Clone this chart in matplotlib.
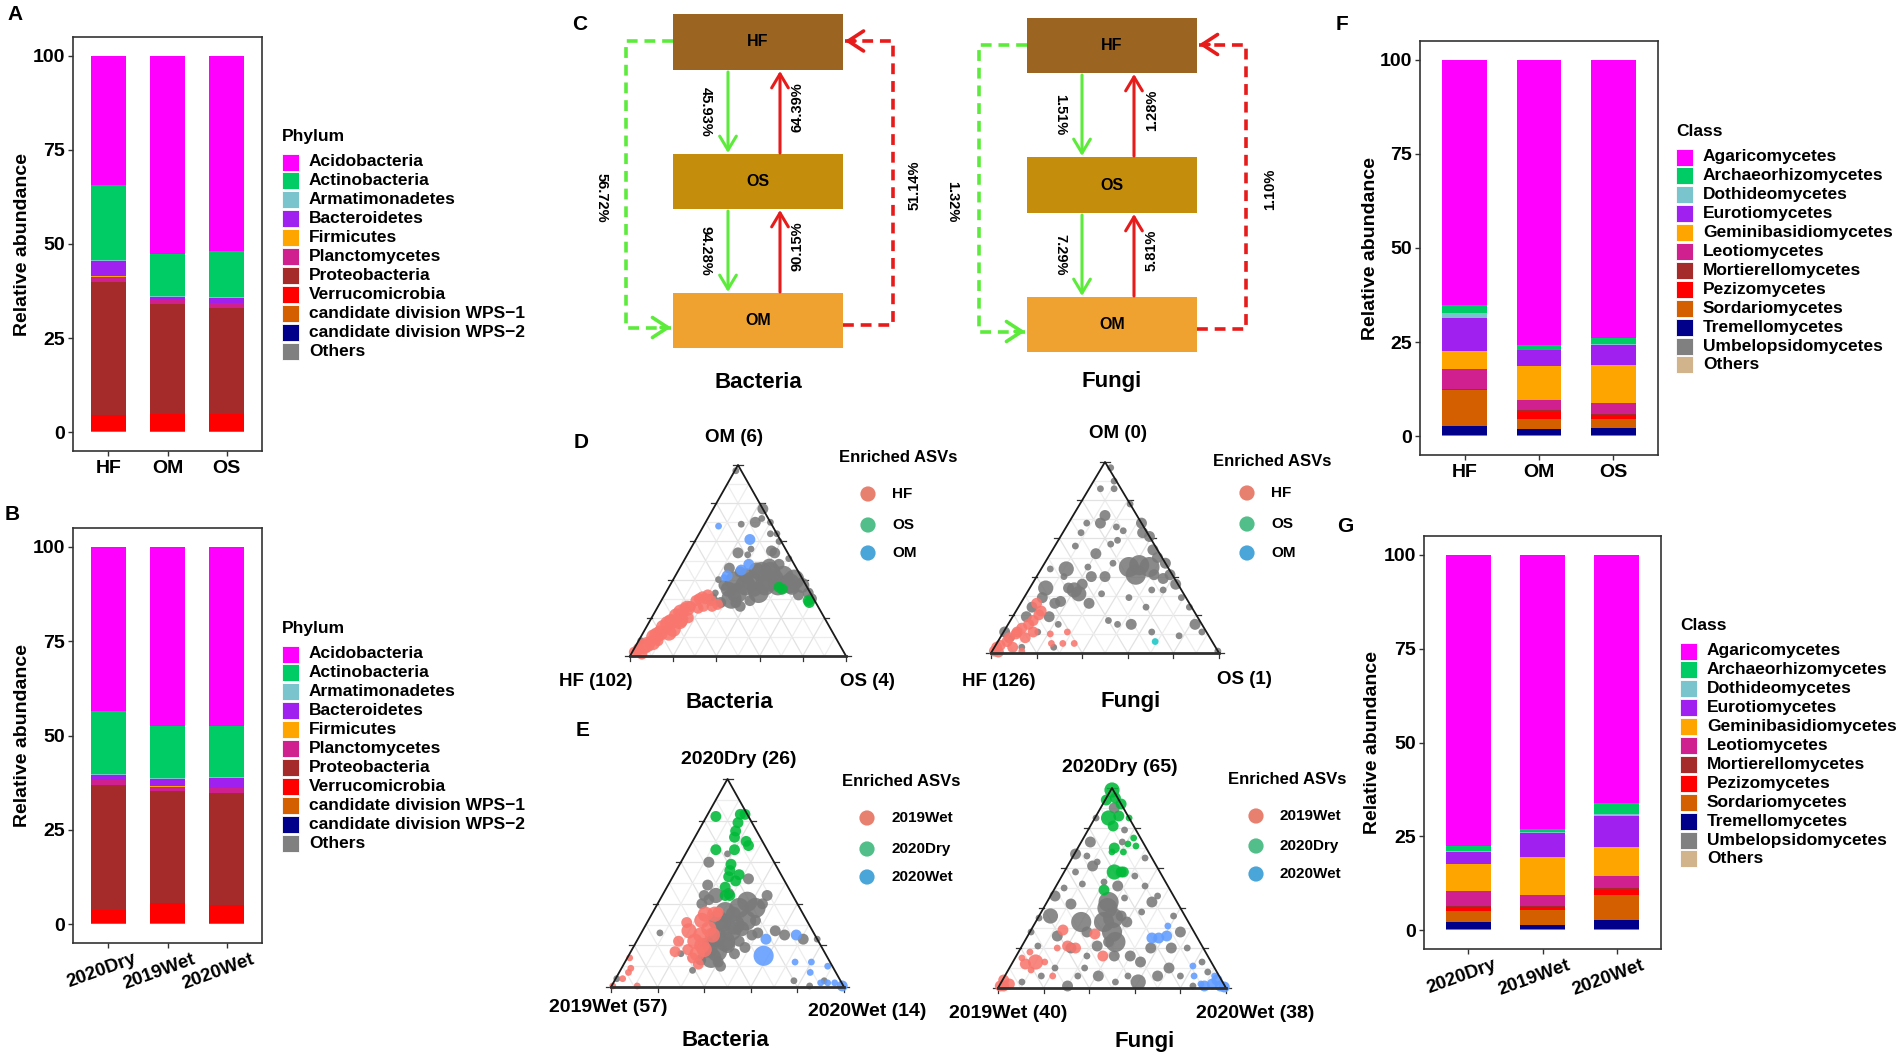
import numpy as np
import matplotlib
matplotlib.use('Agg')
import matplotlib.pyplot as plt
from matplotlib.patches import Rectangle, FancyArrowPatch
from matplotlib.transforms import ScaledTranslation

plt.rcParams['font.family'] = ['Liberation Sans', 'DejaVu Sans']
plt.rcParams['font.weight'] = 'bold'
plt.rcParams['axes.labelweight'] = 'bold'

W, H, DPI = 1902, 1058, 100

# ------------------------------------------------------------------ data
phyla = ['Acidobacteria', 'Actinobacteria', 'Armatimonadetes', 'Bacteroidetes',
         'Firmicutes', 'Planctomycetes', 'Proteobacteria', 'Verrucomicrobia',
         'candidate division WPS\u22121', 'candidate division WPS\u22122', 'Others']
phylum_colors = ['#FF00FF', '#00CC66', '#7AC5CD', '#A020F0', '#FFA500', '#D02090',
                 '#A52A2A', '#FF0000', '#D35F00', '#00008B', '#808080']
site_cats = ['HF', 'OM', 'OS']
season_cats = ['2020Dry', '2019Wet', '2020Wet']

A_HF = [34.4, 19.9, 0.3, 3.9, 0.2, 1.4, 35.3, 4.2, 0.1, 0.1, 0.2]
A_OM = [52.7, 11.0, 0.3, 0.8, 0.1, 1.1, 29.1, 4.7, 0.05, 0.05, 0.1]
A_OS = [51.9, 12.3, 0.2, 1.3, 0.1, 1.3, 28.0, 4.7, 0.05, 0.05, 0.1]
B_2020Dry = [43.4, 16.7, 0.4, 1.2, 0.1, 1.2, 33.2, 3.6, 0.05, 0.05, 0.1]
B_2019Wet = [47.4, 13.8, 0.3, 2.0, 0.1, 1.1, 29.6, 5.4, 0.05, 0.05, 0.2]
B_2020Wet = [47.4, 13.5, 0.3, 2.6, 0.1, 1.3, 29.6, 5.0, 0.05, 0.05, 0.1]

classes = ['Agaricomycetes', 'Archaeorhizomycetes', 'Dothideomycetes', 'Eurotiomycetes',
           'Geminibasidiomycetes', 'Leotiomycetes', 'Mortierellomycetes', 'Pezizomycetes',
           'Sordariomycetes', 'Tremellomycetes', 'Umbelopsidomycetes', 'Others']
class_colors = ['#FF00FF', '#00CC66', '#7AC5CD', '#A020F0', '#FFA500', '#D02090',
                '#A52A2A', '#FF0000', '#D35F00', '#00008B', '#808080', '#D2B48C']
F_HF = [65.2, 2.0, 1.3, 8.8, 4.8, 5.3, 0.3, 0.1, 9.4, 2.6, 0.1, 0.1]
F_OM = [75.7, 1.3, 0.2, 4.1, 9.2, 2.6, 0.5, 1.8, 2.8, 1.4, 0.3, 0.1]
F_OS = [73.8, 1.7, 0.2, 5.4, 10.2, 2.7, 0.3, 1.1, 2.4, 1.9, 0.2, 0.1]
G_2020Dry = [77.5, 1.5, 0.2, 3.1, 7.3, 4.0, 0.3, 0.9, 3.0, 2.0, 0.1, 0.1]
G_2019Wet = [73.1, 0.7, 0.4, 6.2, 10.1, 3.1, 0.3, 0.7, 4.1, 1.1, 0.1, 0.1]
G_2020Wet = [66.2, 2.8, 0.5, 8.3, 7.8, 3.2, 0.6, 1.3, 6.7, 2.3, 0.2, 0.1]

# flow percentages: HF->OS, OS->HF, OS->OM, OM->OS, HF->OM, OM->HF
flow_bacteria = [45.93, 64.39, 94.28, 90.15, 56.72, 51.14]
flow_fungi = [1.51, 1.28, 7.29, 5.81, 1.32, 1.10]

# ternary points: (top share %, right share %, size class)
# D bacteria (top = OM, left = HF, right = OS)
dbac_gray = [(97, 0.5, 1), (77, 23, 2), (70, 23, 2), (72, 25, 1), (70, 30, 1), (64, 33, 1), (64, 36, 1),
             (60, 39, 1), (69, 17, 1), (54, 23, 2), (56, 28, 1), (53, 28, 1), (55, 38, 2), (54, 40, 2),
             (51, 48, 1), (46, 23, 2), (39, 29, 4), (33, 33, 4), (39, 37, 4), (44, 39, 4), (44, 43, 4),
             (42, 50, 4), (40, 56, 4), (37, 61, 3), (33, 66, 2), (30, 69, 2), (37, 44, 4), (37, 50, 4),
             (33, 43, 4), (30, 32, 4), (37, 25, 2), (40, 21, 1), (33, 23, 1), (28, 28, 2), (30, 23, 2),
             (8, 1, 1), (37, 35, 4), (39, 45, 4), (38, 55, 4), (44, 29, 2), (42, 33, 3), (35, 40, 3),
             (41, 47, 3), (36, 57, 3), (32, 62, 2), (45, 36, 3), (47, 41, 3), (28, 35, 2), (26, 38, 2),
             (48, 45, 2), (35, 28, 3), (29, 41, 2)]
dbac_hf = [(2, 1, 2), (3, 2, 2), (1, 5, 2), (6, 5, 3), (10, 6, 3), (11, 7, 3), (15, 8, 3), (17, 9, 3),
           (18, 10, 3), (21, 11, 3), (23, 12, 3), (25, 13, 2), (25, 14, 3), (26, 15, 2), (29, 16, 2),
           (30, 17, 2), (31, 18, 2), (30, 20, 2), (32, 20, 2), (29, 23, 2), (26, 25, 2), (27, 27, 2),
           (20, 17, 2), (18, 14, 3), (12, 12, 3), (12, 8, 3), (7, 7, 3), (5, 4, 3), (4, 2, 2),
           (19, 14, 3), (25, 19, 2), (26, 21, 2), (8, 9, 2), (14, 13, 3)]
dbac_os = [(36, 51, 2), (35, 53, 2), (29, 68, 2), (28, 69, 2)]
dbac_om = [(68, 7, 1), (61, 25, 2), (48, 31, 2), (45, 29, 2), (42, 24, 2), (41, 23, 1)]

# D fungi
dfun_gray = [(97, 4, 1), (90, 9, 1), (86, 5, 1), (86, 11, 1), (78, 22, 1), (72, 14, 2), (68, 14, 2),
             (68, 8, 1), (66, 22, 1), (64, 26, 1), (68, 32, 2), (63, 35, 2), (61, 39, 2), (63, 8, 1),
             (56, 9, 1), (57, 24, 1), (59, 26, 1), (52, 20, 2), (44, 11, 3), (44, 4, 1), (45, 20, 1),
             (40, 30, 2), (47, 30, 1), (45, 38, 4), (46, 42, 4), (45, 47, 4), (41, 43, 4), (41, 51, 2),
             (54, 44, 2), (50, 48, 2), (47, 53, 2), (41, 58, 2), (36, 63, 2), (29, 69, 1), (24, 75, 1),
             (15, 82, 2), (11, 87, 1), (1, 99, 1), (33, 59, 1), (39, 56, 2), (33, 20, 3), (34, 17, 2),
             (36, 22, 2), (27, 17, 2), (26, 15, 2), (34, 7, 3), (29, 8, 2), (24, 6, 2), (19, 6, 2),
             (26, 30, 2), (31, 33, 1), (17, 43, 1), (15, 48, 1), (29, 46, 1), (15, 54, 2), (11, 65, 1),
             (9, 78, 1), (24, 56, 1), (33, 54, 1), (15, 22, 1), (19, 16, 2), (11, 15, 1), (8, 5, 1),
             (11, 0.5, 2), (3, 26, 1), (3, 12, 1), (40, 24, 2), (40, 12, 1), (31, 23, 3)]
dfun_hf = [(1, 1, 2), (3, 1, 2), (4, 2, 2), (6, 4, 2), (8, 4, 2), (10, 6, 2), (11, 6, 2), (13, 7, 2),
           (15, 9, 2), (17, 10, 2), (20, 11, 2), (22, 11, 2), (26, 7, 2), (0.5, 3, 2), (3, 8, 2),
           (8, 11, 2), (11, 13, 2), (10, 21, 1), (5, 24, 1), (5, 29, 1), (5, 34, 1), (11, 28, 1),
           (1, 13, 1)]
dfun_os = [(6, 69, 1)]

# E bacteria (top = 2020Dry, left = 2019Wet, right = 2020Wet)
ebac_gray = [(64, 18, 1), (60, 12, 2), (49, 17, 2), (44, 18, 2), (44, 23, 3), (52, 33, 2), (44, 45, 2),
             (40, 45, 2), (41, 38, 4), (38, 36, 4), (36, 31, 4), (32, 30, 4), (30, 38, 4), (32, 42, 4),
             (32, 46, 2), (24, 33, 4), (17, 37, 4), (14, 36, 4), (22, 38, 4), (22, 44, 2), (19, 48, 2),
             (16, 45, 2), (27, 38, 4), (25, 48, 2), (27, 57, 2), (25, 62, 2), (23, 71, 2), (23, 77, 1),
             (26, 8, 1), (16, 22, 1), (8, 31, 1), (13, 32, 2), (42, 21, 2), (40, 19, 2), (3, 77, 1),
             (0.5, 85, 1), (3, 90, 1), (4, 0.5, 1), (38, 43, 4), (19, 32, 4), (35, 35, 3), (28, 42, 3),
             (20, 40, 3), (30, 33, 3), (45, 28, 2), (12, 40, 2), (10, 42, 2), (26, 50, 2)]
ebac_2019wet = [(14, 1, 1), (9, 4, 1), (7, 4, 1), (4, 3, 1), (0.5, 0.5, 1), (0.5, 11, 1), (22, 18, 2),
                (17, 19, 2), (31, 17, 2), (27, 20, 3), (22, 25, 3), (18, 24, 2), (16, 29, 3), (14, 28, 2),
                (32, 23, 3), (35, 23, 3), (35, 27, 3), (28, 28, 3), (25, 31, 3), (25, 26, 3), (20, 29, 3),
                (18, 31, 3), (11, 32, 2), (36, 28, 2)]
ebac_2020dry = [(82, 4, 2), (83, 14, 2), (83, 16, 2), (79, 15, 2), (75, 16, 2), (72, 17, 2), (70, 23, 2),
                (68, 25, 2), (66, 12, 2), (66, 20, 2), (59, 22, 2), (56, 23, 2), (54, 28, 2), (53, 24, 2),
                (51, 28, 2), (48, 25, 2), (44, 29, 2), (44, 27, 2)]
ebac_2020wet = [(23, 55, 2), (25, 67, 2), (15, 58, 4), (12, 73, 1), (12, 80, 1), (10, 88, 1), (7, 82, 1),
                (2, 89, 1), (2, 92, 1), (2, 95, 1), (0.5, 99, 2)]

# E fungi
efun_gray = [(90, 6, 2), (85, 0.5, 1), (79, 16, 1), (73, 18, 1), (73, 4, 2), (67, 0.5, 2), (66, 6, 1),
             (63, 12, 1), (61, 11, 2), (58, 5, 1), (52, 11, 1), (50, 4, 1), (46, 2, 2), (42, 11, 2),
             (36, 5, 3), (35, 0.5, 1), (33, 20, 4), (28, 25, 2), (40, 28, 4), (33, 30, 4), (28, 36, 4),
             (23, 37, 2), (16, 43, 2), (36, 36, 2), (33, 40, 2), (45, 33, 1), (56, 32, 1), (51, 39, 1),
             (43, 46, 2), (38, 44, 1), (65, 32, 1), (46, 47, 1), (36, 59, 1), (28, 66, 2), (20, 66, 2),
             (20, 73, 1), (20, 57, 2), (13, 56, 2), (16, 50, 2), (6, 54, 1), (3, 60, 3), (6, 67, 2),
             (10, 70, 2), (6, 77, 1), (1, 85, 1), (3, 50, 1), (6, 41, 2), (10, 33, 1), (1, 30, 2),
             (10, 20, 1), (6, 16, 1), (21, 7, 1), (28, 0.5, 1), (26, 13, 2), (20, 22, 2), (16, 31, 1),
             (21, 33, 2), (6, 32, 1), (3, 9, 1), (13, 83, 1), (8, 88, 1), (53, 20, 1), (51, 27, 2),
             (43, 27, 4), (35, 33, 4), (23, 40, 4)]
efun_2019wet = [(1, 0.5, 2), (1, 2, 2), (2, 4, 2), (4, 0.5, 2), (15, 3, 1), (12, 6, 2), (13, 10, 3),
                (13, 14, 1), (18, 5, 1), (29, 14, 2), (20, 16, 1), (21, 20, 2), (20, 24, 2), (27, 29, 2),
                (16, 38, 2), (6, 21, 1), (9, 10, 1)]
efun_2020dry = [(99, 0.5, 3), (94, 0.5, 2), (95, 4, 2), (92, 8, 2), (85, 6, 3), (81, 10, 2), (86, 10, 2),
                (85, 15, 1), (75, 22, 1), (72, 21, 1), (71, 25, 1), (70, 16, 2), (68, 21, 1), (68, 16, 1),
                (58, 22, 3), (58, 25, 2), (58, 26, 2), (49, 22, 2)]
efun_2020wet = [(25, 55, 2), (25, 58, 2), (26, 61, 2), (31, 59, 1), (11, 80, 1), (6, 83, 1), (1, 90, 2),
                (2, 93, 2), (4, 94, 2), (1, 97, 2), (0.5, 99, 2), (6, 92, 1), (2, 88, 1)]

# ------------------------------------------------------------------ figure
fig = plt.figure(figsize=(W / DPI, H / DPI), dpi=DPI)
fig.patch.set_facecolor('white')


def rect(x0, y0, x1, y1):
    return [x0 / W, 1 - y1 / H, (x1 - x0) / W, (y1 - y0) / H]


def bar_panel(box, cats, series, colors, rotated, ylab_x):
    ax = fig.add_axes(rect(*box))
    x = np.arange(1, len(cats) + 1)
    data = np.array(series, dtype=float)
    bottom = np.zeros(len(cats))
    for j in range(data.shape[1] - 1, -1, -1):
        ax.bar(x, data[:, j], bottom=bottom, width=0.6, color=colors[j], linewidth=0)
        bottom += data[:, j]
    ax.set_xlim(0.4, len(cats) + 0.6)
    ax.set_ylim(-5, 105)
    ax.set_yticks([0, 25, 50, 75, 100])
    ax.set_xticks(x)
    ax.set_xticklabels(cats)
    for s in ax.spines.values():
        s.set_color('#333333')
        s.set_linewidth(1.2)
    ax.tick_params(axis='both', colors='#333333', length=3.5, width=1.0,
                   labelcolor='black', labelsize=14)
    ax.tick_params(axis='y', pad=2)
    for lbl in ax.get_yticklabels() + ax.get_xticklabels():
        lbl.set_fontweight('bold')
    if rotated:
        ax.tick_params(axis='x', pad=2, labelsize=13.5)
        for lbl in ax.get_xticklabels():
            lbl.set_rotation(20)
            lbl.set_ha('right')
            lbl.set_va('top')
            lbl.set_rotation_mode('anchor')
            lbl.set_transform(lbl.get_transform() + ScaledTranslation(0.24, 0, fig.dpi_scale_trans))
    else:
        ax.tick_params(axis='x', pad=3)
    ax.set_ylabel('Relative abundance', fontsize=14, fontweight='bold')
    ax.yaxis.set_label_coords(ylab_x, 0.5)
    return ax


bar_panel((73, 37, 262, 451), site_cats, [A_HF, A_OM, A_OS], phylum_colors, False, -0.222)
bar_panel((73, 528, 262, 943), season_cats, [B_2020Dry, B_2019Wet, B_2020Wet], phylum_colors, True, -0.222)
bar_panel((1420, 41, 1658, 455), site_cats, [F_HF, F_OM, F_OS], class_colors, False, -0.172)
bar_panel((1424, 536, 1661, 949), season_cats, [G_2020Dry, G_2019Wet, G_2020Wet], class_colors, True, -0.181)

# ------------------------------------------------------------------ ternary plots
SIZES = {1: 24, 2: 62, 3: 120, 4: 210}


def ternary(bl, br, top, groups):
    (blx, bly), (brx, _), (_, ty) = bl, br, top
    ax = fig.add_axes(rect(blx, ty, brx, bly))
    ax.set_xlim(0, 1)
    ax.set_ylim(0, 1)
    ax.axis('off')
    ax.patch.set_alpha(0)
    for k in range(1, 10):
        f = k / 10
        c = '#E2E2E2' if k % 2 == 0 else '#EDEDED'
        ax.plot([f / 2, 1 - f / 2], [f, f], color=c, lw=0.9, zorder=1)
        ax.plot([f, f + (1 - f) / 2], [0, 1 - f], color=c, lw=0.9, zorder=1)
        ax.plot([1 - f, (1 - f) / 2], [0, 1 - f], color=c, lw=0.9, zorder=1)
    wpx, hpx = brx - blx, bly - ty
    L = 5.0
    for k in range(6):
        f = k / 5
        ax.plot([f, f], [0, -L / hpx], color='#333333', lw=0.9, clip_on=False, zorder=2)
        ax.plot([f / 2, f / 2 - L / wpx], [f, f], color='#333333', lw=0.9, clip_on=False, zorder=2)
        ax.plot([1 - f / 2, 1 - f / 2 + L / wpx], [f, f], color='#333333', lw=0.9, clip_on=False, zorder=2)
    for pts, color in groups:
        t = np.array([p[0] for p in pts]) / 100.0
        s = np.array([p[1] for p in pts]) / 100.0
        sz = [SIZES[p[2]] for p in pts]
        ax.scatter(s + t / 2, t, s=sz, color=color, alpha=0.88, edgecolors='none',
                   clip_on=False, zorder=3)
    ax.plot([0, 0.5, 1], [0, 1, 0], color='#1A1A1A', lw=1.3, zorder=4, clip_on=False)
    ax.plot([0, 1], [0, 0], color='#303030', lw=2.0, zorder=4, clip_on=False)
    return ax


GRAY, RED, GREEN, BLUE = '#7A7A7A', '#F8766D', '#00BA38', '#619CFF'
ternary((630, 656), (846, 656), (738, 465),
        [(dbac_gray, GRAY), (dbac_hf, RED), (dbac_om, BLUE), (dbac_os, GREEN)])
ternary((991, 653), (1219, 653), (1105, 462),
        [(dfun_gray, GRAY), (dfun_hf, RED), (dfun_os, '#1CC7C7')])
ternary((611, 987), (844, 987), (727, 779),
        [(ebac_gray, GRAY), (ebac_2019wet, RED), (ebac_2020dry, GREEN), (ebac_2020wet, BLUE)])
ternary((998, 988), (1226, 988), (1111, 788),
        [(efun_gray, GRAY), (efun_2019wet, RED), (efun_2020dry, GREEN), (efun_2020wet, BLUE)])

# ------------------------------------------------------------------ overlay (pixel coordinates)
ov = fig.add_axes([0, 0, 1, 1], zorder=10)
ov.set_xlim(0, W)
ov.set_ylim(H, 0)
ov.axis('off')
ov.patch.set_alpha(0)


def txt(x, y, s, size, ha='center', va='center', rot=0):
    ov.text(x, y, s, fontsize=size, fontweight='bold', ha=ha, va=va, rotation=rot,
            rotation_mode='anchor' if rot else 'default', color='black')


# panel letters
for lab, (x, y) in zip('ABCDEFG', [(15, 15), (12, 515), (580, 24), (581, 442), (583, 730),
                                   (1342, 25), (1345, 526)]):
    txt(x, y, lab, 15)


def square_legend(x, y_title, y_first, title, names, colors, step=18.9):
    txt(x, y_title, title, 12.5, ha='left')
    for i, (n, c) in enumerate(zip(names, colors)):
        yc = y_first + i * step
        ov.add_patch(Rectangle((x, yc - 8.5), 17, 17, facecolor=c, edgecolor='white', lw=0.6))
        txt(x + 27, yc, n, 12.5, ha='left')


square_legend(282, 137, 162, 'Phylum', phyla, phylum_colors)
square_legend(282, 628, 654, 'Phylum', phyla, phylum_colors)
square_legend(1676, 131, 157, 'Class', classes, class_colors)
square_legend(1680, 625, 651, 'Class', classes, class_colors)

# ------------------------------------------------------------------ panel C (flow diagram)
BOX_COL = {'HF': '#9B6420', 'OS': '#C48E0C', 'OM': '#F0A230'}
GC, RC = '#5DEB3B', '#E81B1B'


def solid_arrow(x, y0, y1, color):
    ov.add_patch(FancyArrowPatch((x, y0), (x, y1), arrowstyle='->,head_length=0.5,head_width=0.3',
                                 mutation_scale=20, color=color, lw=2.2, shrinkA=0, shrinkB=0))


def dashed_route(xs, ys, color):
    ov.plot(xs, ys, color=color, lw=2.6, ls=(0, (3.0, 1.9)), solid_capstyle='butt',
            dash_capstyle='butt')
    dx = np.sign(xs[-1] - xs[-2])
    ov.add_patch(FancyArrowPatch((xs[-1] - dx * 10, ys[-1]), (xs[-1], ys[-1]),
                                 arrowstyle='->,head_length=0.55,head_width=0.36',
                                 mutation_scale=20, color=color, lw=2.6, shrinkA=0, shrinkB=0))


def flow_diagram(xl, xr, ys, gx, rx, dgx, drx, vals, name, lab_x):
    for key, (y0, y1) in zip(['HF', 'OS', 'OM'], ys):
        ov.add_patch(Rectangle((xl, y0), xr - xl, y1 - y0, facecolor=BOX_COL[key], edgecolor='none'))
        txt((xl + xr) / 2, (y0 + y1) / 2, key, 11.5)
    (hf0, hf1), (os0, os1), (om0, om1) = ys
    solid_arrow(gx, hf1 + 2, os0 - 1, GC)
    solid_arrow(gx, os1 + 2, om0 - 1, GC)
    solid_arrow(rx, os0 - 1, hf1 + 1, RC)
    solid_arrow(rx, om0 - 1, os1 + 1, RC)
    hfc = (hf0 + hf1) / 2 - 1
    omc = (om0 + om1) / 2 + 7
    dashed_route([xl, dgx, dgx, xl - 2], [hfc, hfc, omc, omc], GC)
    dashed_route([xr, drx, drx, xr + 2], [omc - 3, omc - 3, hfc, hfc], RC)
    fmt = ['{:.2f}%'.format(v) for v in vals]
    midA = (hf1 + os0) / 2
    midB = (os1 + om0) / 2
    txt(gx - 22, midA, fmt[0], 10.5, rot=-90)
    txt(rx + 18, midA - 5, fmt[1], 10.5, rot=90)
    txt(gx - 22, midB, fmt[2], 10.5, rot=-90)
    txt(rx + 18, midB - 5, fmt[3], 10.5, rot=90)
    txt(lab_x[0], (hf0 + om1) / 2 + 17, fmt[4], 10.5, rot=-90)
    txt(lab_x[1], (hf0 + om1) / 2 + 4, fmt[5], 10.5, rot=90)
    txt((xl + xr) / 2, 382, name, 16)


flow_diagram(673, 843, [(14, 70), (154, 209), (293, 348)], 728, 780, 626, 893,
             flow_bacteria, 'Bacteria', (602, 915))
flow_diagram(1027, 1197, [(18, 73), (157, 213), (297, 352)], 1082, 1134, 979, 1246,
             flow_fungi, 'Fungi', (952, 1270))

# ------------------------------------------------------------------ ternary labels and legends
LEG_COLORS = ['#E8806F', '#52BE8A', '#4AA6D8']


def circ_legend(x_title, y_title, xc, ys, labels):
    txt(x_title, y_title, 'Enriched ASVs', 12, ha='left')
    for y, lab, c in zip(ys, labels, LEG_COLORS):
        ov.scatter([xc], [y], s=120, color=c, edgecolors='none')
        txt(xc + 24, y, lab, 11, ha='left')


txt(734, 438, 'OM (6)', 13.5)
txt(596, 682, 'HF (102)', 13.5)
txt(867, 681, 'OS (4)', 13.5)
txt(729, 702, 'Bacteria', 16)
circ_legend(839, 457, 868, [494, 525, 553], ['HF', 'OS', 'OM'])

txt(1118, 433, 'OM (0)', 13.5)
txt(999, 681, 'HF (126)', 13.5)
txt(1244, 679, 'OS (1)', 13.5)
txt(1131, 702, 'Fungi', 16)
circ_legend(1213, 461, 1247, [493, 524, 553], ['HF', 'OS', 'OM'])

txt(739, 759, '2020Dry (26)', 14)
txt(608, 1008, '2019Wet (57)', 14)
txt(867, 1012, '2020Wet (14)', 14)
txt(725, 1040, 'Bacteria', 16)
circ_legend(842, 782, 867, [818, 849, 877], ['2019Wet', '2020Dry', '2020Wet'])

txt(1120, 767, '2020Dry (65)', 14)
txt(1008, 1014, '2019Wet (40)', 14)
txt(1255, 1014, '2020Wet (38)', 14)
txt(1145, 1041, 'Fungi', 16)
circ_legend(1228, 780, 1256, [816, 846, 874], ['2019Wet', '2020Dry', '2020Wet'])

fig.savefig('out.png', dpi=DPI, facecolor='white')
